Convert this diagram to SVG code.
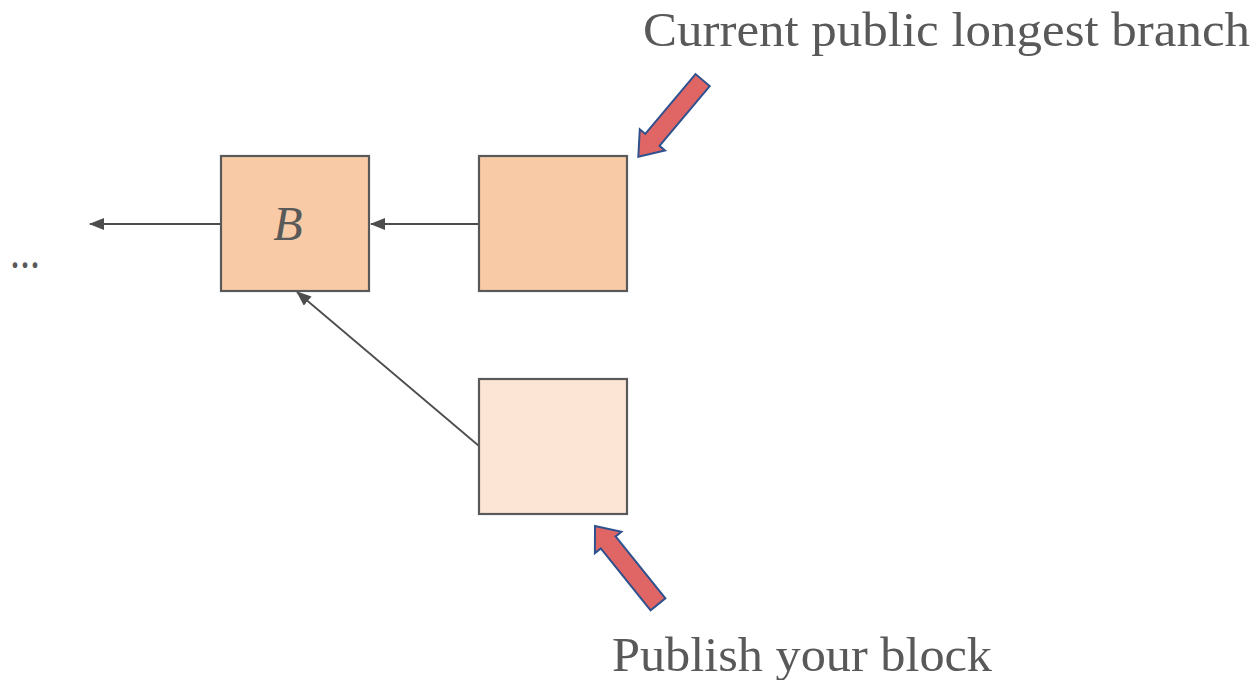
<svg xmlns="http://www.w3.org/2000/svg" width="1255" height="680" viewBox="0 0 1255 680">
  <style>
    .block { stroke: #595959; stroke-width: 2.2; }
    .main { fill: #f8cba6; }
    .pending { fill: #fde5d5; }
    .link { stroke: #4d4d4d; stroke-width: 1.8; fill: none; marker-end: url(#tri); }
    .label { font-family: "Liberation Serif", "DejaVu Serif", serif; font-size: 48px; fill: #595959; }
    .pointer { fill: #e06666; stroke: #2f528f; stroke-width: 2; stroke-linejoin: miter; }
  </style>
  <defs>
    <marker id="tri" viewBox="0 0 15 12" refX="14" refY="6" markerWidth="15" markerHeight="12" markerUnits="userSpaceOnUse" orient="auto">
      <path d="M0,0 L15,6 L0,12 z" fill="#4d4d4d"/>
    </marker>
  </defs>
  <rect width="1255" height="680" fill="#ffffff"/>

  <!-- chain connectors -->
  <g id="connectors">
    <line class="link" x1="221" y1="224" x2="90" y2="224"/>
    <line class="link" x1="479" y1="224" x2="371" y2="224"/>
    <line class="link" x1="479" y1="446" x2="297" y2="292"/>
  </g>

  <g id="ellipsis">
    <text class="label" x="10" y="268" textLength="30" lengthAdjust="spacingAndGlyphs">...</text>
  </g>

  <g id="block-b">
    <rect class="block main" x="221" y="156" width="148" height="135"/>
    <text class="label" x="288" y="240" text-anchor="middle" font-style="italic">B</text>
  </g>

  <g id="block-public">
    <rect class="block main" x="479" y="156" width="148" height="135"/>
  </g>

  <g id="block-own">
    <rect class="block pending" x="479" y="379" width="148" height="135"/>
  </g>

  <!-- callout arrows -->
  <g id="pointer-public">
    <polygon class="pointer" points="638.3,156.7 665,150.5 659.5,145.8 709.7,86.1 695.5,74.1 645.3,133.9 639.8,129.2"/>
  </g>
  <g id="pointer-own">
    <polygon class="pointer" points="595,526 621.4,531.7 615.6,536.4 665.4,598.3 650.6,610.3 600.8,548.4 594.9,553.1"/>
  </g>

  <g id="label-public">
    <text class="label" x="643" y="46" textLength="607" lengthAdjust="spacingAndGlyphs">Current public longest branch</text>
  </g>
  <g id="label-own">
    <text class="label" x="612" y="671" textLength="380" lengthAdjust="spacingAndGlyphs">Publish your block</text>
  </g>
</svg>
